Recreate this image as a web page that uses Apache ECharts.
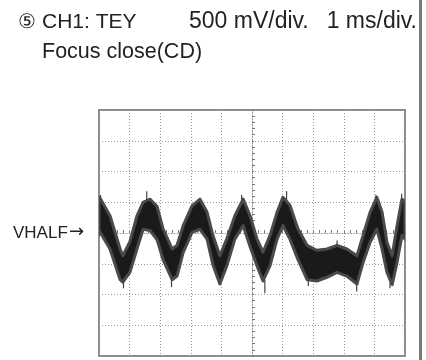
<!DOCTYPE html>
<html>
<head>
<meta charset="utf-8">
<title>CH1: TEY Focus close(CD)</title>
<script src="https://cdn.jsdelivr.net/npm/echarts@6/dist/echarts.min.js"></script>
<style>
  html, body { margin: 0; padding: 0; background: #fff; }
  #chart { width: 426px; height: 360px; }
</style>
</head>
<body>
<div id="chart"></div>
<script>
// time in ms (1 ms/div), voltage in V relative to VHALF (500 mV/div)
var timeMs = [0, 0.03, 0.36, 0.69, 0.78, 1.01, 1.24, 1.44, 1.67, 1.90, 2.09, 2.39, 2.55, 2.75, 3.04, 3.30,
  3.53, 3.73, 3.95, 4.18, 4.44, 4.71, 4.93, 5.16, 5.36, 5.59, 5.82, 6.01, 6.24, 6.50, 6.80, 7.12,
  7.45, 7.78, 8.10, 8.43, 8.63, 8.86, 9.08, 9.25, 9.41, 9.58, 9.74, 9.90, 10.0];
var upperV = [0.55, 0.57, 0.28, -0.26, -0.37, -0.14, 0.28, 0.50, 0.55, 0.43, 0.07, -0.26, -0.20, 0.12, 0.44, 0.55,
  0.34, -0.05, -0.37, -0.09, 0.28, 0.55, 0.29, -0.09, -0.31, -0.04, 0.34, 0.58, 0.45, 0.07, -0.20, -0.28,
  -0.26, -0.20, -0.26, -0.37, -0.04, 0.34, 0.58, 0.34, -0.15, -0.37, 0.12, 0.55, 0.50];
var lowerV = [-0.03, 0.02, -0.26, -0.76, -0.80, -0.64, -0.26, 0.06, 0.04, -0.11, -0.43, -0.76, -0.70, -0.32, 0.01, 0.06,
  -0.10, -0.53, -0.83, -0.53, -0.10, 0.12, -0.21, -0.53, -0.78, -0.53, -0.10, 0.12, -0.10, -0.43, -0.76, -0.78,
  -0.72, -0.64, -0.70, -0.83, -0.48, -0.15, 0.06, -0.26, -0.64, -0.84, -0.48, -0.04, -0.10];
// noise spikes: time, start level, tip level
var spikeTime = [0.05, 0.80, 1.56, 2.37, 4.66, 5.42, 6.13, 6.84, 7.78, 8.42, 9.05, 9.51, 9.89];
var spikeFrom = [0.50, -0.74, 0.52, -0.74, 0.50, -0.76, 0.52, -0.74, -0.22, -0.78, 0.50, -0.80, 0.50];
var spikeTo = [0.62, -0.90, 0.68, -0.88, 0.62, -0.98, 0.68, -0.86, -0.12, -0.95, 0.62, -0.90, 0.64];

var chart = echarts.init(document.getElementById('chart'), null, { renderer: 'canvas' });

var font = '"Liberation Sans", Arial, Helvetica, sans-serif';
var dotted = { color: '#9a9a9a', width: 1, type: [1, 2] };

chart.setOption({
  animation: false,
  grid: {
    left: 99, top: 110, width: 306, height: 246,
    show: true, borderColor: '#8c8c8c', borderWidth: 2, backgroundColor: '#fff'
  },
  xAxis: {
    type: 'value', min: 0, max: 10, interval: 1,
    axisLine: { show: true, onZero: true, lineStyle: dotted },
    axisTick: { show: true, inside: true, length: 2, lineStyle: { color: '#777' } },
    minorTick: { show: true, splitNumber: 5, length: 3, lineStyle: { color: '#777' } },
    axisLabel: { show: false },
    splitLine: { show: true, lineStyle: dotted }
  },
  yAxis: {
    type: 'value', min: -2, max: 2, interval: 0.5,
    position: 'left', offset: -153,
    axisLine: { show: true, onZero: false, lineStyle: dotted },
    axisTick: { show: true, inside: true, length: 2, lineStyle: { color: '#777' } },
    minorTick: { show: true, splitNumber: 5, length: 3, lineStyle: { color: '#777' } },
    axisLabel: { show: false },
    splitLine: { show: true, lineStyle: dotted }
  },
  series: [{
    type: 'custom',
    data: [0],
    clip: true,
    renderItem: function (params, api) {
      var top = timeMs.map(function (t, i) { return api.coord([t, upperV[i]]); });
      var bot = timeMs.map(function (t, i) { return api.coord([t, lowerV[i]]); });
      var poly = top.concat(bot.slice().reverse());
      var children = [
        { type: 'polygon', shape: { points: poly }, style: { fill: '#1a1a1a', stroke: '#4a4a4a', lineWidth: 3, lineJoin: 'round' } }
      ];
      spikeTime.forEach(function (t, i) {
        var a = api.coord([t, spikeFrom[i]]);
        var b = api.coord([t, spikeTo[i]]);
        children.push({ type: 'line', shape: { x1: a[0], y1: a[1], x2: b[0], y2: b[1] },
          style: { stroke: '#444', lineWidth: 1.2 } });
      });
      return { type: 'group', children: children };
    }
  }],
  graphic: [
    { type: 'rect', left: 419, top: 0, shape: { width: 3, height: 360 }, style: { fill: '#7a7a7a' } },
    { type: 'text', x: 18, y: 22, style: { text: '⑤', font: '20px ' + font, fill: '#222', textVerticalAlign: 'middle' } },
    { type: 'text', x: 42, y: 22, style: { text: 'CH1: TEY', font: '21px ' + font, fill: '#222', textVerticalAlign: 'middle' } },
    { type: 'text', x: 189, y: 22, style: { text: '500 mV/div.', font: '23px ' + font, fill: '#222', textVerticalAlign: 'middle' } },
    { type: 'text', x: 417, y: 22, style: { text: '1 ms/div.', font: '23px ' + font, fill: '#222', textAlign: 'right', textVerticalAlign: 'middle' } },
    { type: 'text', x: 42, y: 52, style: { text: 'Focus close(CD)', font: '21.5px ' + font, fill: '#222', textVerticalAlign: 'middle' } },
    { type: 'text', x: 13, y: 233, style: { text: 'VHALF', font: '17px ' + font, fill: '#222', textVerticalAlign: 'middle' } },
    { type: 'text', x: 69, y: 232, style: { text: '→', font: '18px "DejaVu Sans", sans-serif', fill: '#222', textVerticalAlign: 'middle' } }
  ]
});
</script>
</body>
</html>
